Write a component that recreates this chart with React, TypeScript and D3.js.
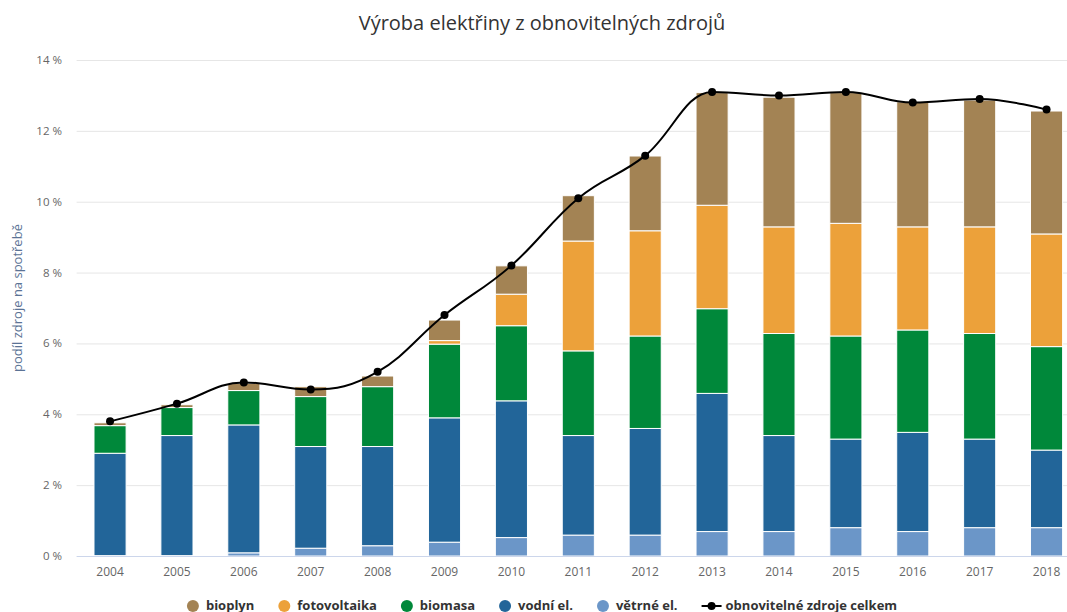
import React, { useEffect, useRef } from "react";
import * as d3 from "d3";

const years = ["2004", "2005", "2006", "2007", "2008", "2009", "2010", "2011", "2012", "2013", "2014", "2015", "2016", "2017", "2018"];

// values in % of consumption, stacked bottom -> top
const vetrne = [0.01, 0.01, 0.09, 0.22, 0.29, 0.39, 0.52, 0.59, 0.59, 0.69, 0.69, 0.8, 0.69, 0.8, 0.8];
const vodni = [2.89, 3.39, 3.61, 2.87, 2.8, 3.51, 3.86, 2.81, 3.01, 3.9, 2.71, 2.5, 2.8, 2.5, 2.19];
const biomasa = [0.78, 0.79, 0.97, 1.41, 1.69, 2.08, 2.12, 2.39, 2.61, 2.39, 2.88, 2.91, 2.89, 2.98, 2.92];
const fotovoltaika = [0, 0, 0, 0, 0, 0.1, 0.89, 3.1, 2.97, 2.92, 3.01, 3.18, 2.91, 3.01, 3.18];
const bioplyn = [0.08, 0.08, 0.2, 0.28, 0.3, 0.58, 0.8, 1.28, 2.11, 3.18, 3.66, 3.69, 3.53, 3.58, 3.47];
const celkem = [3.8, 4.3, 4.9, 4.7, 5.2, 6.8, 8.2, 10.1, 11.3, 13.1, 13.0, 13.1, 12.8, 12.9, 12.6];

const yTicks = [0, 2, 4, 6, 8, 10, 12, 14];

const series = [
  { key: "vetrne", label: "větrné el.", color: "#6b96c8", values: vetrne },
  { key: "vodni", label: "vodní el.", color: "#226599", values: vodni },
  { key: "biomasa", label: "biomasa", color: "#00883a", values: biomasa },
  { key: "fotovoltaika", label: "fotovoltaika", color: "#eca13a", values: fotovoltaika },
  { key: "bioplyn", label: "bioplyn", color: "#a38354", values: bioplyn },
];

const FONT = "'Open Sans', sans-serif";

// spline like highcharts (smoothing 1.5, no false extremes)
function splineCurve(context: any) {
  let pts: number[][] = [];
  return {
    areaStart() {},
    areaEnd() {},
    lineStart() { pts = []; },
    point(x: number, y: number) { pts.push([+x, +y]); },
    lineEnd() {
      const n = pts.length;
      if (!n) return;
      const sm = 1.5, den = sm + 1;
      const rc: (number[] | null)[] = [];
      const lc: (number[] | null)[] = [];
      for (let i = 0; i < n; i++) {
        if (i === 0 || i === n - 1) { rc.push(null); lc.push(null); continue; }
        const [lx, ly] = pts[i - 1], [px, py] = pts[i], [nx, ny] = pts[i + 1];
        const lcx = (sm * px + lx) / den;
        let lcy = (sm * py + ly) / den;
        const rcx = (sm * px + nx) / den;
        let rcy = (sm * py + ny) / den;
        let corr = 0;
        if (rcx !== lcx) corr = ((rcy - lcy) * (rcx - px)) / (rcx - lcx) + py - rcy;
        lcy += corr; rcy += corr;
        if (lcy > ly && lcy > py) { lcy = Math.max(ly, py); rcy = 2 * py - lcy; }
        else if (lcy < ly && lcy < py) { lcy = Math.min(ly, py); rcy = 2 * py - lcy; }
        if (rcy > ny && rcy > py) { rcy = Math.max(ny, py); lcy = 2 * py - rcy; }
        else if (rcy < ny && rcy < py) { rcy = Math.min(ny, py); lcy = 2 * py - rcy; }
        lc.push([lcx, lcy]); rc.push([rcx, rcy]);
      }
      context.moveTo(pts[0][0], pts[0][1]);
      for (let i = 1; i < n; i++) {
        const a = rc[i - 1] || pts[i - 1];
        const b = lc[i] || pts[i];
        context.bezierCurveTo(a[0], a[1], b[0], b[1], pts[i][0], pts[i][1]);
      }
    },
  };
}

export default function App() {
  const svgRef = useRef<SVGSVGElement>(null);

  useEffect(() => {
    if (!svgRef.current) return;
    const svg = d3.select(svgRef.current);
    svg.selectAll("*").remove();

    const left = 76.6, right = 1080, top = 60, bottom = 556;
    const center = 542;

    const x = d3.scaleBand<string>().domain(years).range([left, right]).paddingInner(0.52).paddingOuter(0.26);
    const y = d3.scaleLinear().domain([0, 14]).range([bottom, top]);

    // title
    svg.append("text").attr("x", center).attr("y", 30).attr("text-anchor", "middle")
      .style("font-family", FONT).style("font-size", "20px").attr("fill", "#333")
      .text("Výroba elektřiny z obnovitelných zdrojů");

    // grid
    svg.append("g").selectAll("line").data(yTicks.filter(d => d > 0)).join("line")
      .attr("x1", left).attr("x2", right).attr("y1", d => y(d) + 0.5).attr("y2", d => y(d) + 0.5)
      .attr("stroke", "#e6e6e6").attr("stroke-width", 1);

    // y labels
    svg.append("g").selectAll("text").data(yTicks).join("text")
      .attr("x", 62).attr("y", d => y(d) + 4).attr("text-anchor", "end")
      .style("font-family", FONT).style("font-size", "11.5px").attr("fill", "#666")
      .text(d => `${d} %`);

    svg.append("text").attr("transform", `translate(22,298) rotate(-90)`).attr("text-anchor", "middle")
      .style("font-family", FONT).style("font-size", "13px").attr("fill", "#5b7395")
      .text("podíl zdroje na spotřebě");

    // stacked bars
    const rows = years.map((yr, i) => {
      const r: any = { year: yr };
      series.forEach(s => (r[s.key] = s.values[i]));
      return r;
    });
    const stack = d3.stack<any>().keys(series.map(s => s.key))(rows);

    stack.forEach((layer, li) => {
      svg.append("g").selectAll("rect").data(layer).join("rect")
        .attr("x", d => x(d.data.year)!)
        .attr("width", x.bandwidth())
        .attr("y", d => y(d[1]))
        .attr("height", d => Math.max(0, y(d[0]) - y(d[1])))
        .attr("fill", series[li].color)
        .attr("stroke", "#fff").attr("stroke-width", 1);
    });

    // x axis line
    svg.append("line").attr("x1", left).attr("x2", right).attr("y1", bottom + 0.5).attr("y2", bottom + 0.5)
      .attr("stroke", "#ccd6eb").attr("stroke-width", 1);

    svg.append("g").selectAll("text").data(years).join("text")
      .attr("x", d => x(d)! + x.bandwidth() / 2).attr("y", 576).attr("text-anchor", "middle")
      .style("font-family", FONT).style("font-size", "12px").attr("fill", "#666")
      .text(d => d);

    // total line
    const line = d3.line<number>()
      .x((_, i) => x(years[i])! + x.bandwidth() / 2)
      .y(d => y(d))
      .curve(splineCurve as any);
    svg.append("path").datum(celkem).attr("d", line).attr("fill", "none")
      .attr("stroke", "#000").attr("stroke-width", 2);
    svg.append("g").selectAll("circle").data(celkem).join("circle")
      .attr("cx", (_, i) => x(years[i])! + x.bandwidth() / 2).attr("cy", d => y(d)).attr("r", 4)
      .attr("fill", "#000");

    // legend
    const legendItems = [
      ...series.slice().reverse().map(s => ({ label: s.label, color: s.color, line: false })),
      { label: "obnovitelné zdroje celkem", color: "#000", line: true },
    ];
    const lg = svg.append("g");
    let cx = 0;
    const ly = 606;
    legendItems.forEach(item => {
      const g = lg.append("g").attr("transform", `translate(${cx},0)`);
      let tx;
      if (item.line) {
        g.append("line").attr("x1", 0).attr("x2", 20).attr("y1", ly).attr("y2", ly)
          .attr("stroke", "#000").attr("stroke-width", 2);
        g.append("circle").attr("cx", 10).attr("cy", ly).attr("r", 4).attr("fill", "#000");
        tx = 24;
      } else {
        g.append("circle").attr("cx", 6).attr("cy", ly).attr("r", 6).attr("fill", item.color);
        tx = 19;
      }
      const t = g.append("text").attr("x", tx).attr("y", ly + 4)
        .style("font-family", FONT).style("font-size", "13px").style("font-weight", "bold")
        .attr("fill", "#333").text(item.label);
      const w = (t.node() as SVGTextElement).getComputedTextLength();
      cx += tx + w + 24;
    });
    const totalW = cx - 24;
    lg.attr("transform", `translate(${center - totalW / 2},0)`);
  }, []);

  return (
    <svg ref={svgRef} width={1067} height={612}
      style={{ position: "absolute", left: 0, top: 0, background: "#fff", overflow: "hidden" }} />
  );
}
